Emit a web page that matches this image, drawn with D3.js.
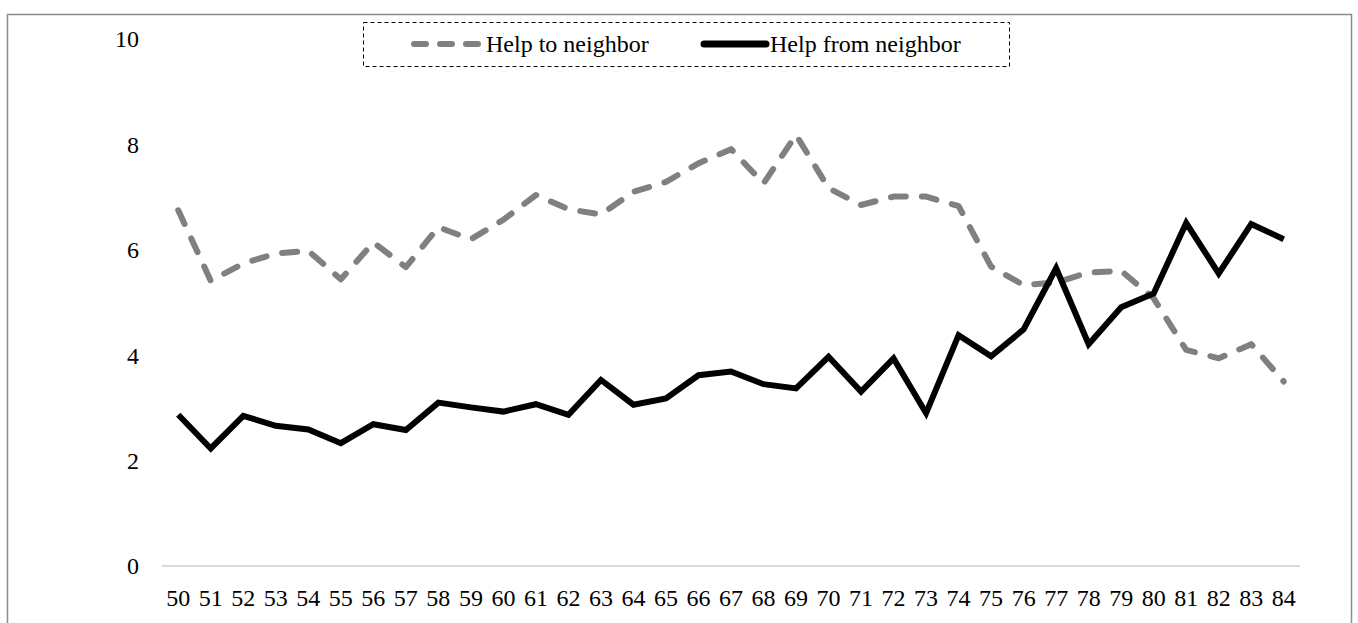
<!DOCTYPE html>
<html>
<head>
<meta charset="utf-8">
<script src="https://cdn.jsdelivr.net/npm/d3@7"></script>
<style>
  body { margin: 0; background: #fff; }
  text { font-family: "Liberation Serif", "Times New Roman", serif; fill: #000; }
</style>
</head>
<body>
<svg></svg>
<script>
var width = 1358;
var height = 623;

var ages = [50,51,52,53,54,55,56,57,58,59,60,61,62,63,64,65,66,67,68,69,
            70,71,72,73,74,75,76,77,78,79,80,81,82,83,84];

var help_to = [6.75,5.41,5.74,5.93,5.98,5.44,6.14,5.67,6.43,6.20,6.57,7.04,6.77,6.67,7.10,
               7.29,7.64,7.91,7.26,8.18,7.17,6.85,7.01,7.01,6.83,5.68,5.33,5.38,5.57,5.60,
               5.08,4.10,3.94,4.21,3.50];

var help_from = [2.87,2.23,2.85,2.66,2.59,2.33,2.69,2.58,3.10,3.01,2.93,3.07,2.87,3.53,3.06,
                 3.18,3.62,3.69,3.45,3.37,3.97,3.31,3.94,2.90,4.38,3.98,4.49,5.65,4.21,4.91,
                 5.17,6.51,5.55,6.49,6.20];

var y_ticks = [0,2,4,6,8,10];
var legend_labels = ["Help to neighbor", "Help from neighbor"];

var svg = d3.select("svg")
          .attr("width",width)
          .attr("height",height);

// outer frame
svg.append("rect")
    .attr("x",7.5)
    .attr("y",14.5)
    .attr("width",1344)
    .attr("height",660)
    .style("fill","none")
    .style("stroke","#8c8c8c")
    .style("stroke-width",1.5);

var x = d3.scalePoint()
    .domain(ages)
    .range([162,1300])
    .padding(0.5);

var y = d3.scaleLinear()
    .domain([0,10])
    .range([566,39]);

// baseline
svg.append("line")
    .attr("x1",162)
    .attr("x2",1300)
    .attr("y1",y(0))
    .attr("y2",y(0))
    .style("stroke","#d9d9d9")
    .style("stroke-width",2);

svg.selectAll(".ylab")
    .data(y_ticks)
    .enter().append("text")
      .attr("class","ylab")
      .attr("x",139)
      .attr("y",function(d){ return y(d); })
      .attr("dy","0.35em")
      .attr("text-anchor","end")
      .style("font-size","24px")
      .text(function(d){ return d; });

svg.selectAll(".xlab")
    .data(ages)
    .enter().append("text")
      .attr("class","xlab")
      .attr("x",function(d){ return x(d); })
      .attr("y",598)
      .attr("dy","0.35em")
      .attr("text-anchor","middle")
      .style("font-size","24px")
      .text(function(d){ return d; });

var line = d3.line()
    .x(function(d,i){ return x(ages[i]); })
    .y(function(d){ return y(d); });

svg.append("path")
    .datum(help_to)
    .attr("d",line)
    .style("fill","none")
    .style("stroke","#808080")
    .style("stroke-width",6)
    .style("stroke-linecap","round")
    .style("stroke-linejoin","round")
    .style("stroke-dasharray","15 16");

svg.append("path")
    .datum(help_from)
    .attr("d",line)
    .style("fill","none")
    .style("stroke","#000")
    .style("stroke-width",6);

// legend
var lg = svg.append("g");
lg.append("rect")
    .attr("x",363.5)
    .attr("y",22.5)
    .attr("width",646)
    .attr("height",44)
    .style("fill","#fff")
    .style("stroke","#000")
    .style("stroke-width",1)
    .style("stroke-dasharray","4 3");

lg.append("line")
    .attr("x1",414).attr("x2",480)
    .attr("y1",44).attr("y2",44)
    .style("stroke","#808080")
    .style("stroke-width",6)
    .style("stroke-linecap","round")
    .style("stroke-dasharray","12 14");

lg.append("line")
    .attr("x1",704).attr("x2",766)
    .attr("y1",44).attr("y2",44)
    .style("stroke","#000")
    .style("stroke-width",7)
    .style("stroke-linecap","round");

lg.selectAll(".legtext")
    .data(legend_labels)
    .enter().append("text")
      .attr("class","legtext")
      .attr("x",function(d,i){ return i == 0 ? 486 : 770; })
      .attr("y",44)
      .attr("dy","0.35em")
      .style("font-size","24px")
      .text(function(d){ return d; });
</script>
</body>
</html>
